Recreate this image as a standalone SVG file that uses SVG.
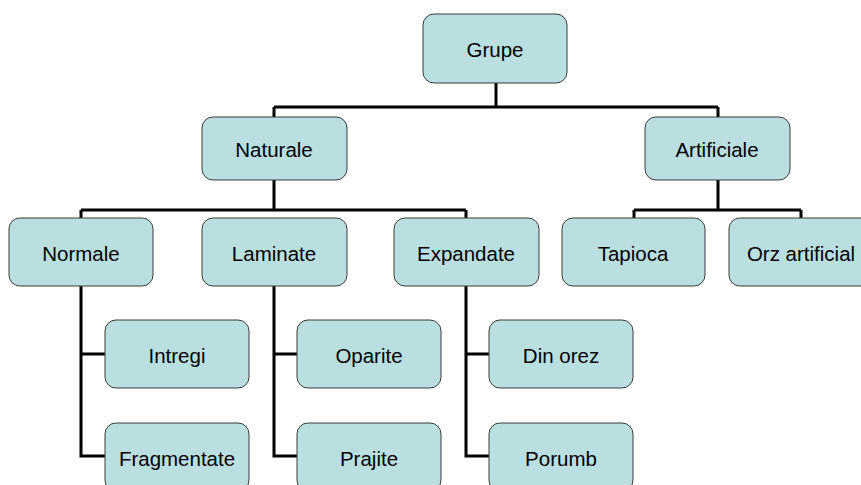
<svg xmlns="http://www.w3.org/2000/svg" width="861" height="485" viewBox="0 0 861 485">
<style>
.n rect{fill:#b9dfe1;stroke:#3a3a3a;stroke-width:1}
.n text{font-family:"Liberation Sans",Arial,sans-serif;font-size:20.5px;fill:#000;text-anchor:middle}
.c path{fill:none;stroke:#000;stroke-width:3}
</style>
<rect width="861" height="485" fill="#fff"/>
<g class="c" id="connectors">
<path d="M496 83V107M274 107H718M274 107V117M718 107V117"/>
<path d="M274 180V210M81 210H466M81 210V218M466 210V218"/>
<path d="M718 180V210M634 210H801M634 210V218M801 210V218"/>
<path d="M81 286V456H105M81 354H105"/>
<path d="M274 286V456H297M274 354H297"/>
<path d="M466 286V456H489M466 354H489"/>
</g>
<g class="n" id="grupe"><rect x="423" y="14" width="144" height="69" rx="11"/><text x="495" y="57">Grupe</text></g>
<g class="n" id="naturale"><rect x="202" y="117" width="145" height="63" rx="11"/><text x="274" y="157">Naturale</text></g>
<g class="n" id="artificiale"><rect x="645" y="117" width="145" height="63" rx="11"/><text x="717" y="157">Artificiale</text></g>
<g class="n" id="normale"><rect x="9" y="218" width="144" height="68" rx="11"/><text x="81" y="260.5">Normale</text></g>
<g class="n" id="laminate"><rect x="202" y="218" width="145" height="68" rx="11"/><text x="274" y="260.5">Laminate</text></g>
<g class="n" id="expandate"><rect x="394" y="218" width="145" height="68" rx="11"/><text x="466" y="260.5">Expandate</text></g>
<g class="n" id="tapioca"><rect x="562" y="218" width="143" height="68" rx="11"/><text x="633" y="260.5">Tapioca</text></g>
<g class="n" id="orz"><rect x="729" y="218" width="144" height="68" rx="11"/><text x="801" y="260.5">Orz artificial</text></g>
<g class="n" id="intregi"><rect x="105" y="320" width="144" height="68" rx="11"/><text x="177" y="362.5">Intregi</text></g>
<g class="n" id="fragmentate"><rect x="105" y="423" width="144" height="68" rx="11"/><text x="177" y="465.5">Fragmentate</text></g>
<g class="n" id="oparite"><rect x="297" y="320" width="144" height="68" rx="11"/><text x="369" y="362.5">Oparite</text></g>
<g class="n" id="prajite"><rect x="297" y="423" width="144" height="68" rx="11"/><text x="369" y="465.5">Prajite</text></g>
<g class="n" id="dinorez"><rect x="489" y="320" width="144" height="68" rx="11"/><text x="561" y="362.5">Din orez</text></g>
<g class="n" id="porumb"><rect x="489" y="423" width="144" height="68" rx="11"/><text x="561" y="465.5">Porumb</text></g>
</svg>
